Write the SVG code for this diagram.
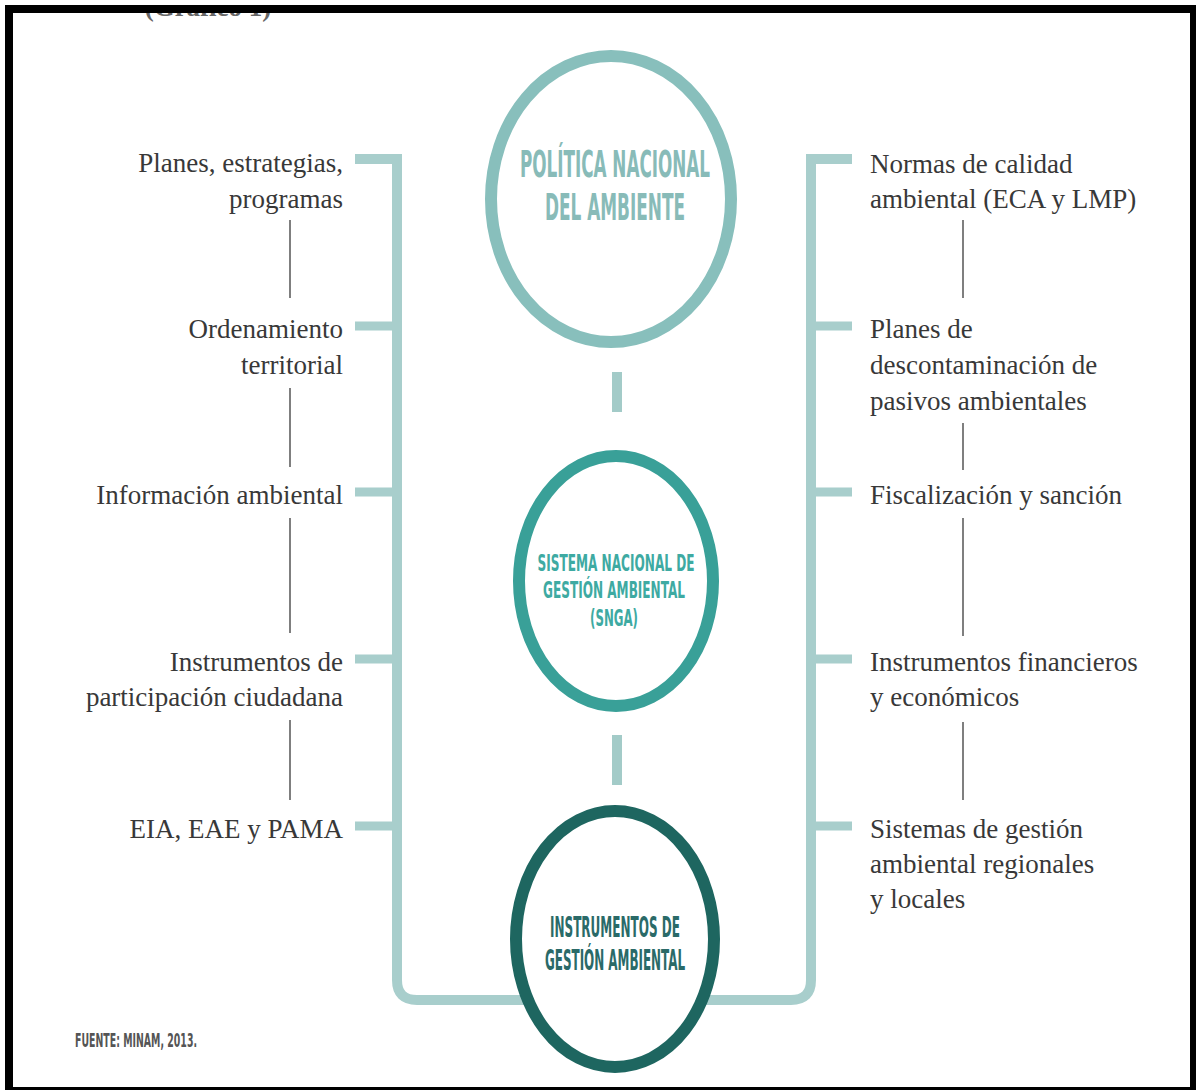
<svg xmlns="http://www.w3.org/2000/svg" width="1196" height="1090" viewBox="0 0 1196 1090">
  <style>
    .lbl { font-family: "Liberation Serif", "DejaVu Serif", serif; font-size: 27px; fill: #383838; }
    .l { text-anchor: end; }
    .r { text-anchor: start; }
    .cap { font-family: "Liberation Sans Narrow", "DejaVu Sans Condensed", "Liberation Sans", sans-serif; font-weight: bold; text-anchor: middle; }
    .bracket { fill: none; stroke: #a8cecc; stroke-width: 10; }
    .stub { stroke: #a8cecc; stroke-width: 9; }
    .thin { stroke: #555; stroke-width: 1.5; }
    .link { fill: #a3cbc8; }
  </style>
  <defs>
    <clipPath id="inner"><rect x="13" y="13" width="1177" height="1074"/></clipPath>
  </defs>

  <rect x="0" y="0" width="1196" height="1090" fill="#fff"/>
  <rect x="5" y="5" width="1191" height="1085" fill="#000"/>
  <rect x="13" y="13" width="1177" height="1074" fill="#fff"/>

  <g clip-path="url(#inner)">
    <text x="208" y="16" text-anchor="middle" font-family="Liberation Serif, serif" font-weight="bold" font-size="27" fill="#666">(Gráfico 1)</text>
  </g>

  <g id="connectors">
    <path class="bracket" d="M355,159 H397 V980 Q397,1000 417,1000 H540"/>
    <path class="bracket" d="M852,159 H811 V980 Q811,1000 791,1000 H690"/>
    <line class="stub" x1="355" y1="326" x2="397" y2="326"/>
    <line class="stub" x1="355" y1="492" x2="397" y2="492"/>
    <line class="stub" x1="355" y1="659" x2="397" y2="659"/>
    <line class="stub" x1="355" y1="826" x2="397" y2="826"/>
    <line class="stub" x1="811" y1="326" x2="852" y2="326"/>
    <line class="stub" x1="811" y1="492" x2="852" y2="492"/>
    <line class="stub" x1="811" y1="659" x2="852" y2="659"/>
    <line class="stub" x1="811" y1="826" x2="852" y2="826"/>
    <rect class="link" x="612" y="372" width="10" height="40"/>
    <rect class="link" x="612" y="735" width="10" height="50"/>
    <line class="thin" x1="290" y1="220" x2="290" y2="298"/>
    <line class="thin" x1="290" y1="388" x2="290" y2="467"/>
    <line class="thin" x1="290" y1="518" x2="290" y2="633"/>
    <line class="thin" x1="290" y1="720" x2="290" y2="800"/>
    <line class="thin" x1="963" y1="220" x2="963" y2="298"/>
    <line class="thin" x1="963" y1="423" x2="963" y2="470"/>
    <line class="thin" x1="963" y1="518" x2="963" y2="636"/>
    <line class="thin" x1="963" y1="722" x2="963" y2="800"/>
  </g>

  <g id="politica">
    <ellipse cx="611" cy="199" rx="120" ry="143" fill="#fff" stroke="#88bfbc" stroke-width="12"/>
    <text class="cap" x="615" y="177" font-size="37" fill="#88bbb8" textLength="190" lengthAdjust="spacingAndGlyphs">POLÍTICA NACIONAL</text>
    <text class="cap" x="615" y="220" font-size="37" fill="#88bbb8" textLength="140" lengthAdjust="spacingAndGlyphs">DEL AMBIENTE</text>
  </g>

  <g id="snga">
    <ellipse cx="616" cy="581" rx="97" ry="125" fill="#fff" stroke="#39a098" stroke-width="12"/>
    <text class="cap" x="616" y="571" font-size="23" fill="#3eaaa2" textLength="157" lengthAdjust="spacingAndGlyphs">SISTEMA NACIONAL DE</text>
    <text class="cap" x="614" y="598" font-size="23" fill="#3eaaa2" textLength="142" lengthAdjust="spacingAndGlyphs">GESTIÓN AMBIENTAL</text>
    <text class="cap" x="614" y="626" font-size="23" fill="#3eaaa2" textLength="48" lengthAdjust="spacingAndGlyphs">(SNGA)</text>
  </g>

  <g id="instrumentos">
    <ellipse cx="615" cy="939" rx="99" ry="128" fill="#fff" stroke="#1e6660" stroke-width="12"/>
    <text class="cap" x="615" y="937" font-size="28" fill="#2a6a68" textLength="130" lengthAdjust="spacingAndGlyphs">INSTRUMENTOS DE</text>
    <text class="cap" x="615" y="970" font-size="28" fill="#2a6a68" textLength="140" lengthAdjust="spacingAndGlyphs">GESTIÓN AMBIENTAL</text>
  </g>

  <g id="left-items">
    <g id="l1"><text class="lbl l" x="343" y="172">Planes, estrategias,</text><text class="lbl l" x="343" y="208">programas</text></g>
    <g id="l2"><text class="lbl l" x="343" y="338">Ordenamiento</text><text class="lbl l" x="343" y="374">territorial</text></g>
    <g id="l3"><text class="lbl l" x="343" y="504">Información ambiental</text></g>
    <g id="l4"><text class="lbl l" x="343" y="671">Instrumentos de</text><text class="lbl l" x="343" y="706">participación ciudadana</text></g>
    <g id="l5"><text class="lbl l" x="343" y="838">EIA, EAE y PAMA</text></g>
  </g>

  <g id="right-items">
    <g id="r1"><text class="lbl r" x="870" y="173">Normas de calidad</text><text class="lbl r" x="870" y="208">ambiental (ECA y LMP)</text></g>
    <g id="r2"><text class="lbl r" x="870" y="338">Planes de</text><text class="lbl r" x="870" y="374">descontaminación de</text><text class="lbl r" x="870" y="410">pasivos ambientales</text></g>
    <g id="r3"><text class="lbl r" x="870" y="504">Fiscalización y sanción</text></g>
    <g id="r4"><text class="lbl r" x="870" y="671">Instrumentos financieros</text><text class="lbl r" x="870" y="706">y económicos</text></g>
    <g id="r5"><text class="lbl r" x="870" y="838">Sistemas de gestión</text><text class="lbl r" x="870" y="873">ambiental regionales</text><text class="lbl r" x="870" y="908">y locales</text></g>
  </g>

  <g id="fuente">
    <text class="cap" x="75" y="1047" font-size="19" fill="#555" style="text-anchor:start" textLength="122" lengthAdjust="spacingAndGlyphs">FUENTE: MINAM, 2013.</text>
  </g>
</svg>
